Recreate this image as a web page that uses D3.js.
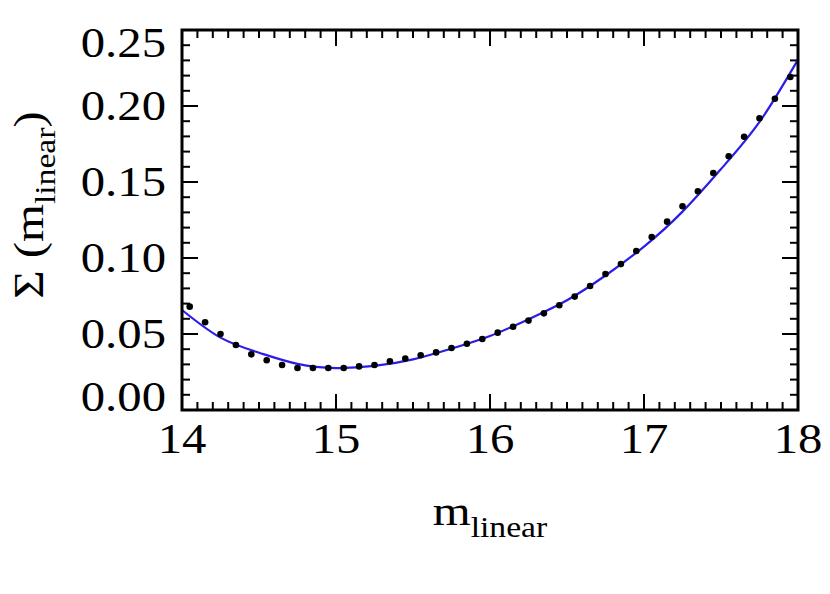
<!DOCTYPE html>
<html>
<head>
<meta charset="utf-8">
<script src="https://cdn.jsdelivr.net/npm/d3@7"></script>
<style>
  body { margin: 0; background: #fff; }
  text { font-family: "Liberation Serif", "Times New Roman", serif; fill: #000; }
</style>
</head>
<body>
<svg width="830" height="594"></svg>
<script>
// measured points (x = m_linear, y = Sigma)
const pointX = [14.05, 14.15, 14.25, 14.35, 14.45, 14.55, 14.65, 14.75, 14.85, 14.95,
                15.05, 15.15, 15.25, 15.35, 15.45, 15.55, 15.65, 15.75, 15.85, 15.95,
                16.05, 16.15, 16.25, 16.35, 16.45, 16.55, 16.65, 16.75, 16.85, 16.95,
                17.05, 17.15, 17.25, 17.35, 17.45, 17.55, 17.65, 17.75, 17.85, 17.95];
const pointY = [0.0680, 0.0577, 0.0500, 0.0428, 0.0366, 0.0327, 0.0296, 0.0276, 0.0276, 0.0276,
                0.0276, 0.0287, 0.0296, 0.0320, 0.0338, 0.0360, 0.0379, 0.0408, 0.0436, 0.0467,
                0.0509, 0.0548, 0.0588, 0.0636, 0.0689, 0.0746, 0.0816, 0.0895, 0.0960, 0.1046,
                0.1138, 0.1239, 0.1340, 0.1439, 0.1559, 0.1669, 0.1798, 0.1919, 0.2048, 0.2191];

// fitted curve
const fitX = [14.00, 14.25, 14.50, 14.75, 15.00, 15.25, 15.50, 15.75, 16.00,
              16.25, 16.50, 16.75, 17.00, 17.25, 17.50, 17.75, 18.00];
const fitY = [0.0658, 0.0476, 0.0377, 0.0303, 0.0276, 0.0290, 0.0333, 0.0404, 0.0487,
              0.0597, 0.0722, 0.0885, 0.1075, 0.1305, 0.1585, 0.1895, 0.2305];

const xTicks = [14, 15, 16, 17, 18];
const yTicks = [0.00, 0.05, 0.10, 0.15, 0.20, 0.25];

const margin = {top: 30, right: 32, bottom: 184, left: 182},
      width = 830 - margin.left - margin.right,
      height = 594 - margin.top - margin.bottom;

const svg = d3.select("svg");
const g = svg.append("g")
    .attr("transform", `translate(${margin.left},${margin.top})`);

const x = d3.scaleLinear().domain([14, 18]).range([0, width]);
const y = d3.scaleLinear().domain([0, 0.25]).range([height, 0]);

const minorX = d3.range(140, 181).map(d => d / 10);
const minorY = d3.range(0, 26).map(d => d / 100);

// ticks on all four sides
const tickW = 2;
function xTickLines(yPos, dir) {
    minorX.forEach(v => {
        const major = Math.abs(v - Math.round(v)) < 1e-6;
        const len = major ? 16 : 8;
        g.append("line")
            .attr("x1", x(v)).attr("x2", x(v))
            .attr("y1", yPos).attr("y2", yPos + dir * len)
            .attr("stroke", "#000").attr("stroke-width", tickW);
    });
}
function yTickLines(xPos, dir) {
    minorY.forEach(v => {
        const major = Math.abs(v * 20 - Math.round(v * 20)) < 1e-6;
        const len = major ? 16 : 8;
        g.append("line")
            .attr("x1", xPos).attr("x2", xPos + dir * len)
            .attr("y1", y(v)).attr("y2", y(v))
            .attr("stroke", "#000").attr("stroke-width", tickW);
    });
}
xTickLines(height, -1);
xTickLines(0, 1);
yTickLines(0, 1);
yTickLines(width, -1);

// fitted curve
g.append("path")
    .datum(fitX.map((v, i) => [v, fitY[i]]))
    .attr("fill", "none")
    .attr("stroke", "#2a1ee6")
    .attr("stroke-width", 2.2)
    .attr("d", d3.line().x(d => x(d[0])).y(d => y(d[1])).curve(d3.curveNatural));

// points
g.selectAll("circle.pt")
    .data(pointX.map((v, i) => [v, pointY[i]]))
    .join("circle")
    .attr("cx", d => x(d[0]))
    .attr("cy", d => y(d[1]))
    .attr("r", 3.3)
    .attr("fill", "#000");

// frame
g.append("rect")
    .attr("width", width).attr("height", height)
    .attr("fill", "none").attr("stroke", "#000").attr("stroke-width", 3);

// tick labels (the original font is a bit wider than Times)
const fs = 42, sx = 1.16;
xTicks.forEach(v => {
    g.append("text")
        .attr("transform", `translate(${x(v)},${height + 43}) scale(${sx},1)`)
        .attr("text-anchor", "middle")
        .style("font-size", fs + "px")
        .text(v);
});
yTicks.forEach(v => {
    // keep the end labels inside the axis span
    let yy = y(v) + 14;
    yy = Math.max(yy, 27);
    yy = Math.min(yy, height + 1);
    g.append("text")
        .attr("transform", `translate(-16,${yy}) scale(${sx},1)`)
        .attr("text-anchor", "end")
        .style("font-size", fs + "px")
        .text(d3.format(".2f")(v));
});

// axis titles
const xt = g.append("text")
    .attr("transform", `translate(${width / 2},${height + 115}) scale(${sx},1)`)
    .attr("text-anchor", "middle")
    .style("font-size", fs + "px");
xt.append("tspan").text("m");
xt.append("tspan").attr("dy", 12).style("font-size", "29px").text("linear");

const yt = svg.append("text")
    .attr("transform", `translate(43,${margin.top + height / 2 - 15}) rotate(-90) scale(${sx},1)`)
    .attr("text-anchor", "middle")
    .style("font-size", fs + "px");
yt.append("tspan").text("Σ (m");
yt.append("tspan").attr("dy", 12).style("font-size", "29px").text("linear");
yt.append("tspan").attr("dy", -12).text(")");
</script>
</body>
</html>
